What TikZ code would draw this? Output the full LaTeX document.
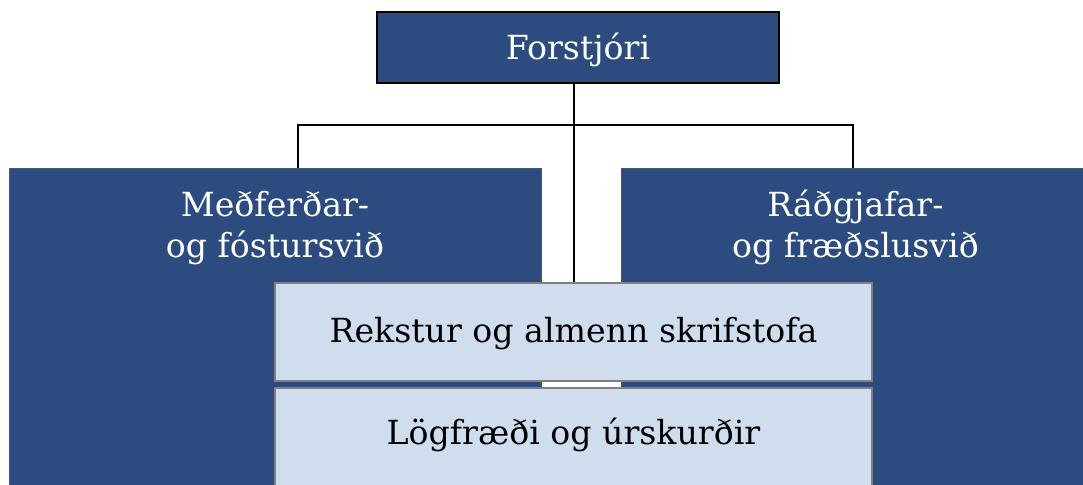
\documentclass[tikz,border=0pt]{standalone}
\usepackage{fontspec}
\setmainfont{DejaVu Serif}
\usepackage{tikz}
\usetikzlibrary{positioning}

\definecolor{orgdark}{HTML}{2C4B7E}
\definecolor{orglight}{HTML}{CFDDEE}

\begin{document}
\begin{tikzpicture}[
        x=0.5pt,y=-0.5pt,
        orgfont/.style={font=\fontsize{16.6}{20.5}\selectfont},
        headbox/.style={orgfont,fill=orgdark,draw=black,line width=1pt,text=white,
                        minimum width=201pt,minimum height=35.5pt,
                        text height=12.1pt,text depth=0pt},
        divbox/.style 2 args={fill=orgdark,draw=orgdark!75!gray,line width=0.4pt,
                        minimum width=#1,minimum height=#2},
        divtext/.style={orgfont,text=white,align=center,anchor=base,inner sep=0pt},
        unitbox/.style={orgfont,fill=orglight,draw=gray,line width=0.6pt,
                        minimum width=298.5pt,minimum height=#1,
                        text height=12.1pt,text depth=2pt},
        unitbox/.default=49pt,
        conn/.style={line width=1pt,draw=black},
      ]
      \useasboundingbox (0,0) rectangle (1083,485);
      \clip (0,0) rectangle (1083,485);
      % Head
      \node[headbox] (forstjori) at (578,47.5) {Forstjóri};
      % Divisions (running off the page at the bottom and right)
      \node[divbox={266pt}{161pt}] (medferd) at (275,329) {};
      \node[divbox={234.5pt}{161pt}] (radgjof) at (855.5,329) {};
      % base = last line here
      \node[divtext] (medferdtxt) at ([yshift=-45pt]medferd.north) {Meðferðar-\\og fóstursvið};
      \node[divtext] (radgjoftxt) at ([yshift=-45pt]radgjof.north) {Ráðgjafar-\\og fræðslusvið};
      % Units on top of the divisions
      \node[unitbox] (rekstur) at (573.5,332) {Rekstur og almenn skrifstofa};
      \node[unitbox,text depth=4.1pt] (logfraedi) at (573.5,437) {Lögfræði og úrskurðir};
      % Connectors
      \coordinate (tee) at (rekstur.north |- 0,125);
      \coordinate (medferdjoin) at (medferd.north -| 298,0);
      \coordinate (radgjofjoin) at (radgjof.north -| 853,0);
      \draw[conn] (forstjori.south -| rekstur.north) -- (rekstur.north);
      \draw[conn] (medferdjoin) |- (tee) -| (radgjofjoin);
    \end{tikzpicture}
\end{document}
